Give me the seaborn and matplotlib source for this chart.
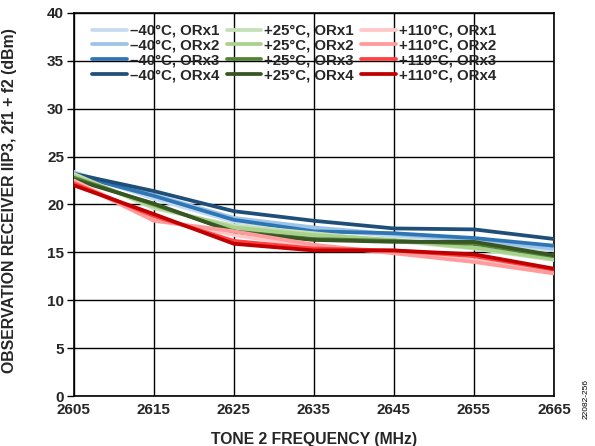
import matplotlib
matplotlib.use("Agg")
import matplotlib.pyplot as plt
import seaborn as sns
import pandas as pd

freq = [2605, 2615, 2625, 2635, 2645, 2655, 2665]

series_names = [
    "–40°C, ORx1", "–40°C, ORx2", "–40°C, ORx3", "–40°C, ORx4",
    "+25°C, ORx1", "+25°C, ORx2", "+25°C, ORx3", "+25°C, ORx4",
    "+110°C, ORx1", "+110°C, ORx2", "+110°C, ORx3", "+110°C, ORx4",
]

m40_orx1 = [23.4, 20.6, 18.2, 17.4, 16.7, 16.2, 15.2]
m40_orx2 = [23.3, 21.0, 18.6, 17.6, 16.9, 16.3, 15.4]
m40_orx3 = [23.1, 20.9, 18.4, 17.2, 17.0, 16.5, 15.7]
m40_orx4 = [23.2, 21.4, 19.3, 18.3, 17.5, 17.4, 16.4]
p25_orx1 = [23.2, 19.6, 17.8, 17.0, 16.2, 15.4, 14.2]
p25_orx2 = [23.0, 19.8, 17.6, 16.8, 16.3, 15.5, 14.3]
p25_orx3 = [22.8, 20.0, 17.2, 16.4, 16.2, 15.9, 14.6]
p25_orx4 = [22.6, 20.1, 17.1, 16.3, 16.1, 16.1, 14.7]
p110_orx1 = [22.5, 18.5, 16.8, 15.6, 15.0, 14.2, 13.0]
p110_orx2 = [22.4, 18.3, 17.2, 15.8, 14.9, 14.0, 12.8]
p110_orx3 = [22.2, 18.8, 16.2, 15.4, 15.2, 14.6, 13.2]
p110_orx4 = [22.0, 19.0, 15.9, 15.2, 15.2, 14.8, 13.3]

values = [m40_orx1, m40_orx2, m40_orx3, m40_orx4,
          p25_orx1, p25_orx2, p25_orx3, p25_orx4,
          p110_orx1, p110_orx2, p110_orx3, p110_orx4]

colors = ["#c5dcf0", "#9dc3e6", "#2e75b6", "#1f4e79",
          "#c5e0b4", "#a9d18e", "#548235", "#375623",
          "#ffc7c7", "#ff9b9b", "#ff4040", "#c00000"]

rows = []
for name, vals in zip(series_names, values):
    for f, v in zip(freq, vals):
        rows.append({"freq": f, "val": v, "series": name})
df = pd.DataFrame(rows)

sns.set_style("white")
plt.rcParams['font.family'] = ['Liberation Sans', 'DejaVu Sans']
plt.rcParams['font.weight'] = 'bold'

fig = plt.figure(figsize=(5.95, 4.46), dpi=100)
ax = fig.add_axes([0.124, 0.112, 0.807, 0.859])

sns.lineplot(data=df, x="freq", y="val", hue="series", hue_order=series_names,
             palette=dict(zip(series_names, colors)), linewidth=2.7, ax=ax,
             legend=True, zorder=3)

ax.set_xlim(2605, 2665)
ax.set_ylim(0, 40)
ax.set_xticks(freq)
ax.set_yticks(range(0, 41, 5))
ax.grid(True, color="black", linewidth=1.0, zorder=0)
ax.set_axisbelow(True)
for s in ax.spines.values():
    s.set_color("black")
    s.set_linewidth(1.2)
ax.tick_params(axis="y", which="both", direction="out", length=5, width=1, color="black",
               labelsize=11, left=True, pad=2)
ax.tick_params(axis="x", length=0, labelsize=11, pad=5)
for lab in ax.get_xticklabels() + ax.get_yticklabels():
    lab.set_fontweight("bold")

ax.set_xlabel("TONE 2 FREQUENCY (MHz)", fontsize=11.3, fontweight="bold")
ax.xaxis.set_label_coords(0.5, -0.095)
ax.set_ylabel("OBSERVATION RECEIVER IIP3, 2f1 + f2 (dBm)", fontsize=11.4,
              fontweight="bold")
ax.yaxis.set_label_coords(-0.119, 0.51)

leg = ax.legend(ncol=3, loc="upper left", bbox_to_anchor=(0.02, 0.995), frameon=False,
                fontsize=10.8, handlelength=2.3, handletextpad=0.2, columnspacing=0.5,
                labelspacing=0.05, borderaxespad=0.2)
for t in leg.get_texts():
    t.set_fontweight("bold")
for l in leg.get_lines():
    l.set_linewidth(2.7)

fig.text(0.985, 0.06, "22082-256", rotation=90, fontsize=6, color="black",
         fontweight="normal", ha="center", va="bottom")

fig.savefig("out.png", dpi=100)
